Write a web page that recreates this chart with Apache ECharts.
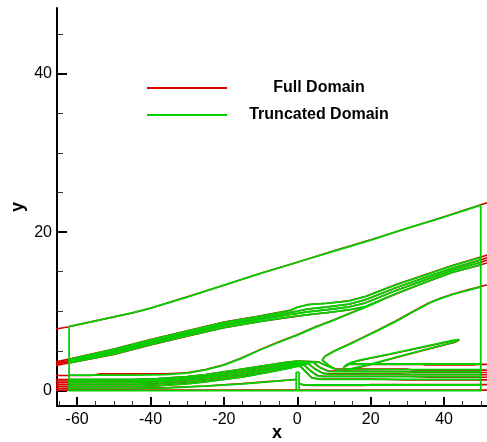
<!DOCTYPE html>
<html>
<head>
<meta charset="utf-8">
<script src="https://cdn.jsdelivr.net/npm/echarts@6/dist/echarts.min.js"></script>
<style>
html,body{margin:0;padding:0;background:#fff;}
#chart{width:487px;height:442px;}
</style>
</head>
<body>
<div id="chart"></div>
<script>
// ---- Axis ticks ----
const xMajorTicks = [-60, -40, -20, 0, 20, 40];
const xMinorTicks = [-65, -55, -50, -45, -35, -30, -25, -15, -10, -5, 5, 10, 15, 25, 30, 35, 45, 50];
const yMajorTicks = [0, 20, 40];
const yMinorTicks = [5, 10, 15, 25, 30, 35, 45];
const legendNames = ['Full Domain', 'Truncated Domain'];

// ---- Truncated Domain (green) contour lines ----
const gBoundary = [[-62.2, 8.1], [-62.2, 0], [50, 0], [50, 23.4]];
const gTop = [[-62.2, 8.1], [-55, 8.8], [-50, 9.3], [-45, 9.8], [-40, 10.4], [-30, 11.8], [-20, 13.3], [-10, 14.8], [0, 16.2], [10, 17.6], [20, 19.0], [30, 20.5], [40, 21.9], [50, 23.4]];
const gBand1 = [[-62.2, 3.95], [-50, 5.2], [-40, 6.4], [-30, 7.5], [-20, 8.6], [-10, 9.4], [-2, 10.1], [0, 10.5], [3, 10.85], [8, 11.0], [14, 11.3], [18.5, 11.85], [26.7, 13.3], [35, 14.6], [42, 15.7], [50, 16.8]];
const gBand2 = [[-62.2, 3.8], [-50, 5.0], [-40, 6.2], [-30, 7.3], [-20, 8.4], [-10, 9.2], [-2, 9.85], [3, 10.3], [8, 10.55], [14, 10.9], [18.5, 11.45], [26.7, 12.95], [35, 14.3], [42, 15.4], [50, 16.5]];
const gBand3 = [[-62.2, 3.65], [-50, 4.8], [-40, 6.0], [-30, 7.1], [-20, 8.2], [-10, 9.0], [-2, 9.6], [3, 9.95], [8, 10.2], [14, 10.55], [18.5, 11.05], [26.7, 12.6], [35, 14.0], [42, 15.15], [50, 16.2]];
const gBand4 = [[-62.2, 3.5], [-50, 4.6], [-40, 5.8], [-30, 6.9], [-20, 7.95], [-10, 8.75], [-2, 9.3], [3, 9.6], [8, 9.85], [14, 10.2], [18.5, 10.6], [26.7, 12.2], [35, 13.7], [42, 14.9], [50, 15.9]];
const gLineA = [[-62.2, 1.95], [-45, 1.95], [-36, 2.0], [-30, 2.2], [-25, 2.6], [-20, 3.2], [-15.6, 4.0], [-10, 5.15], [-5, 6.1], [0, 7.0], [5, 8.0], [10, 8.9], [15, 9.85], [18.5, 10.5], [23, 11.4]];
const gLineB = [[10.7, 2.6], [8.5, 3.2], [6.8, 3.85], [7.5, 4.3], [10, 4.95], [14, 5.8], [17.6, 6.6], [22, 7.6], [26.7, 8.7], [31, 9.8], [35.8, 11.0], [39, 11.6], [42.2, 12.1], [46, 12.6], [50, 13.1]];
const gTongue = [[12.5, 2.9], [13.5, 3.3], [15, 3.6], [17.6, 3.9], [25, 4.6], [32, 5.3], [38, 5.9], [42, 6.3], [44, 6.45], [44.3, 6.3], [43, 6.15], [35, 5.2], [28, 4.35], [20, 3.35], [17.6, 3.05], [15, 2.8], [12.5, 2.65]];
const gE0 = [[-62.2, 0.25], [-45, 0.28], [-35, 0.35], [-25, 0.55], [-15, 0.85], [-8, 1.1], [-0.3, 1.4]];
const gE1 = [[-62.2, 0.5], [-45, 0.52], [-38, 0.6], [-30, 0.85], [-25, 1.1], [-15, 1.7], [-8, 2.3], [-3, 2.75], [0, 3.05], [0.8, 3.05], [2, 2.5], [3.9, 1.6], [6, 1.4], [50, 1.4]];
const gE2 = [[-62.2, 0.75], [-45, 0.78], [-38, 0.85], [-30, 1.1], [-25, 1.35], [-15, 1.95], [-8, 2.55], [-3, 2.95], [0, 3.2], [1.8, 3.25], [3.5, 2.5], [5.5, 1.85], [7, 1.75], [50, 1.75]];
const gE3 = [[-62.2, 1.0], [-45, 1.02], [-38, 1.1], [-30, 1.35], [-25, 1.6], [-15, 2.2], [-8, 2.75], [-3, 3.15], [0, 3.38], [3, 3.4], [4.8, 2.7], [7, 2.15], [9, 2.05], [50, 2.05]];
const gE4 = [[-62.2, 1.2], [-45, 1.22], [-38, 1.3], [-30, 1.55], [-25, 1.8], [-15, 2.45], [-8, 3.0], [-3, 3.38], [0, 3.55], [4.3, 3.55], [6.3, 2.85], [8.5, 2.4], [50, 2.35]];
const gE5 = [[-62.2, 1.4], [-45, 1.42], [-38, 1.5], [-30, 1.75], [-25, 2.0], [-15, 2.7], [-8, 3.2], [-3, 3.55], [0, 3.7], [5.7, 3.6], [8, 3.1], [10.7, 2.65], [13, 2.65], [50, 2.65]];
const gH335 = [[13, 3.05], [14, 3.35], [50, 3.35]];
const gH07 = [[0.5, 0.9], [1.5, 0.75], [4, 0.7], [50, 0.7]];
const gPlate = [[-0.3, 0], [-0.3, 2.3], [0.5, 2.3], [0.5, 0]];

// ---- Full Domain (red) contour lines ----
const rBottom = [[-66, 0.05], [52, 0.05]];
const rTop = [[-66, 7.75], [-62.2, 8.05], [-55, 8.8], [-50, 9.3], [-45, 9.8], [-40, 10.4], [-30, 11.85], [-20, 13.3], [-10, 14.8], [0, 16.2], [10, 17.65], [20, 19.05], [30, 20.5], [40, 21.95], [50, 23.45], [52, 23.75]];
const rBand1 = [[-66, 3.6], [-62.2, 3.98], [-50, 5.25], [-40, 6.45], [-30, 7.55], [-20, 8.65], [-10, 9.45], [-2, 10.12], [0, 10.52], [3, 10.87], [8, 11.02], [14, 11.33], [18.5, 11.88], [26.7, 13.35], [35, 14.65], [42, 15.75], [50, 16.85], [52, 17.15]];
const rBand2 = [[-66, 3.45], [-62.2, 3.8], [-50, 5.0], [-40, 6.2], [-30, 7.3], [-20, 8.4], [-10, 9.2], [-2, 9.85], [3, 10.3], [8, 10.55], [14, 10.9], [18.5, 11.45], [26.7, 12.95], [35, 14.3], [42, 15.4], [50, 16.5], [52, 16.8]];
const rBand3 = [[-66, 3.3], [-62.2, 3.65], [-50, 4.8], [-40, 6.0], [-30, 7.1], [-20, 8.2], [-10, 9.0], [-2, 9.6], [3, 9.95], [8, 10.2], [14, 10.55], [18.5, 11.05], [26.7, 12.6], [35, 14.0], [42, 15.15], [50, 16.2], [52, 16.5]];
const rBand4 = [[-66, 3.15], [-62.2, 3.47], [-50, 4.57], [-40, 5.77], [-30, 6.87], [-20, 7.92], [-10, 8.72], [-2, 9.27], [3, 9.57], [8, 9.82], [14, 10.17], [18.5, 10.57], [26.7, 12.17], [35, 13.67], [42, 14.87], [50, 15.87], [52, 16.15]];
const rLineA = [[-66, 1.9], [-56, 1.9], [-54, 2.1], [-38, 2.1], [-36, 2.1], [-30, 2.25], [-25, 2.65], [-20, 3.25], [-15.6, 4.05], [-10, 5.2], [-5, 6.15], [0, 7.05], [5, 8.05], [10, 8.95], [15, 9.9], [18.5, 10.55], [23, 11.45]];
const rLineB = [[10.7, 2.6], [8.5, 3.2], [6.8, 3.85], [7.5, 4.35], [10, 5.0], [14, 5.85], [17.6, 6.65], [22, 7.65], [26.7, 8.75], [31, 9.85], [35.8, 11.05], [39, 11.65], [42.2, 12.15], [46, 12.65], [50, 13.15], [52, 13.35]];
const rTongue = [[12.5, 2.9], [13.5, 3.25], [15, 3.55], [17.6, 3.85], [25, 4.55], [32, 5.25], [38, 5.85], [42, 6.25], [44.2, 6.4], [44.4, 6.25], [43, 6.1], [35, 5.15], [28, 4.3], [20, 3.3], [17.6, 3.0], [15, 2.75], [12.5, 2.6]];
const rE0 = [[-66, 0.25], [-45, 0.28], [-35, 0.38], [-25, 0.58], [-15, 0.88], [-8, 1.13], [-0.3, 1.4]];
const rE1 = [[-66, 0.5], [-45, 0.5], [-38, 0.62], [-30, 0.88], [-25, 1.13], [-15, 1.73], [-8, 2.33], [-3, 2.78], [0, 3.08], [0.8, 3.08], [2, 2.55], [3.9, 1.65], [6, 1.45], [20, 1.45], [30, 1.35], [52, 1.35]];
const rE2 = [[-66, 0.75], [-45, 0.75], [-38, 0.88], [-30, 1.13], [-25, 1.38], [-15, 1.98], [-8, 2.58], [-3, 2.98], [0, 3.23], [1.8, 3.28], [3.5, 2.55], [5.5, 1.9], [7, 1.8], [30, 1.8], [36, 1.68], [52, 1.68]];
const rE3 = [[-66, 1.0], [-45, 1.0], [-38, 1.13], [-30, 1.38], [-25, 1.63], [-15, 2.23], [-8, 2.78], [-3, 3.18], [0, 3.41], [3, 3.43], [4.8, 2.75], [7, 2.2], [9, 2.1], [28, 2.1], [32, 2.0], [52, 2.0]];
const rE4 = [[-66, 1.2], [-45, 1.2], [-38, 1.33], [-30, 1.58], [-25, 1.83], [-15, 2.48], [-8, 3.03], [-3, 3.41], [0, 3.58], [4.3, 3.58], [6.3, 2.9], [8.5, 2.45], [30, 2.4], [32, 2.28], [52, 2.28]];
const rE5 = [[-66, 1.4], [-45, 1.4], [-38, 1.53], [-30, 1.78], [-25, 2.03], [-15, 2.73], [-8, 3.23], [-3, 3.58], [0, 3.73], [5.7, 3.63], [8, 3.15], [10.7, 2.7], [13, 2.7], [30, 2.7], [32, 2.58], [52, 2.58]];
const rH335 = [[13, 3.0], [14, 3.3], [34, 3.3], [35, 3.22], [48, 3.22], [49, 3.3], [52, 3.3]];
const rH07 = [[0.5, 0.85], [1.5, 0.72], [4, 0.65], [18, 0.65], [20, 0.75], [52, 0.75]];

const RED = '#dc0000';
const GREEN = '#00d200';

const redLines = [rBottom, rTop, rBand1, rBand2, rBand3, rBand4, rLineA, rLineB, rTongue, rE0, rE1, rE2, rE3, rE4, rE5, rH335, rH07];
const greenLines = [gBoundary, gTop, gBand1, gBand2, gBand3, gBand4, gLineA, gLineB, gTongue, gE0, gE1, gE2, gE3, gE4, gE5, gH335, gH07, gPlate];

const series = [];
function addLines(name, color, lines, z, width) {
  lines.forEach(function (d) {
    series.push({
      name: name, type: 'line', data: d, showSymbol: false, symbol: 'none',
      xAxisIndex: 0, yAxisIndex: 0,
      lineStyle: { color: color, width: width }, itemStyle: { color: color },
      animation: false, silent: true, z: z, clip: true
    });
  });
}
addLines(legendNames[0], RED, redLines, 2, 1.6);
addLines(legendNames[1], GREEN, greenLines, 3, 1.8);

const FONT = 'Liberation Sans, Arial, sans-serif';
const X_MIN = -65.5, X_MAX = 51.7, Y_MIN = -1.95, Y_MAX = 48.3;

const chart = echarts.init(document.getElementById('chart'), null, { renderer: 'canvas' });
chart.setOption({
  backgroundColor: '#fff',
  animation: false,
  grid: { left: 57, right: 0, top: 8, bottom: 36, containLabel: false, outerBoundsMode: 'none' },
  legend: {
    data: legendNames,
    orient: 'vertical', left: 142, top: 75,
    itemWidth: 80, itemHeight: 2, icon: 'rect', itemGap: 11,
    selectedMode: false,
    formatter: '{t|{name}}',
    textStyle: {
      rich: { t: { width: 174, align: 'center', fontWeight: 'bold', fontSize: 16, fontFamily: FONT, color: '#000', lineHeight: 16 } }
    }
  },
  xAxis: [{
    type: 'value', min: X_MIN, max: X_MAX, position: 'bottom',
    axisLine: { show: true, onZero: false, lineStyle: { color: '#000', width: 2 } },
    axisTick: { show: true, inside: true, length: 9, customValues: xMajorTicks, lineStyle: { color: '#000', width: 2 } },
    axisLabel: { show: true, customValues: xMajorTicks, fontSize: 16, color: '#000', margin: 6, fontFamily: FONT },
    splitLine: { show: false },
    name: 'x', nameLocation: 'middle', nameGap: 18, nameMoveOverlap: false,
    nameTextStyle: { fontWeight: 'bold', fontSize: 18, color: '#000', fontFamily: FONT, padding: [0, 0, 0, 10] }
  }, {
    type: 'value', min: X_MIN, max: X_MAX, position: 'bottom',
    axisLine: { show: false, onZero: false },
    axisTick: { show: true, inside: true, length: 5, customValues: xMinorTicks, lineStyle: { color: '#333', width: 1 } },
    axisLabel: { show: false }, splitLine: { show: false }
  }],
  yAxis: [{
    type: 'value', min: Y_MIN, max: Y_MAX, position: 'left',
    axisLine: { show: true, onZero: false, lineStyle: { color: '#000', width: 2 } },
    axisTick: { show: true, inside: true, length: 10, customValues: yMajorTicks, lineStyle: { color: '#000', width: 2 } },
    axisLabel: { show: true, customValues: yMajorTicks, fontSize: 16, color: '#000', margin: 5, fontFamily: FONT },
    splitLine: { show: false },
    name: 'y', nameLocation: 'middle', nameGap: 30, nameMoveOverlap: false,
    nameTextStyle: { fontWeight: 'bold', fontSize: 18, color: '#000', fontFamily: FONT }
  }, {
    type: 'value', min: Y_MIN, max: Y_MAX, position: 'left',
    axisLine: { show: false, onZero: false },
    axisTick: { show: true, inside: true, length: 6, customValues: yMinorTicks, lineStyle: { color: '#333', width: 1 } },
    axisLabel: { show: false }, splitLine: { show: false }
  }],
  series: series
});
</script>
</body>
</html>
